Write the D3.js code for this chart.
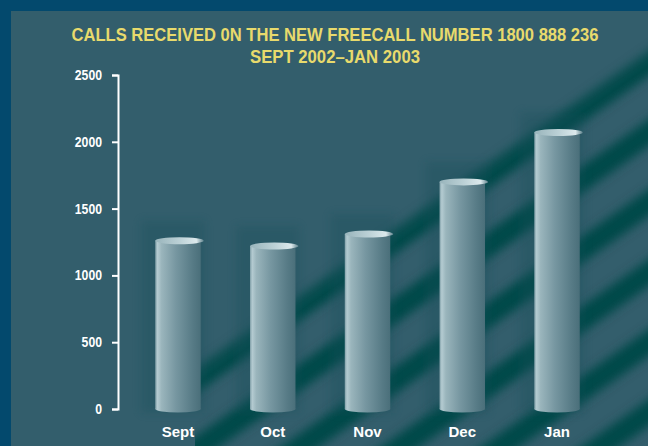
<!DOCTYPE html>
<html>
<head>
<meta charset="utf-8">
<script src="https://cdn.jsdelivr.net/npm/d3@7"></script>
<style>
  html, body { margin: 0; padding: 0; background: #03496d; }
  svg { display: block; }
</style>
</head>
<body>
<div id="chart"></div>
<script>
const months = ['Sept', 'Oct', 'Nov', 'Dec', 'Jan'];
const calls = [1260, 1220, 1310, 1700, 2070];
const yTicks = [0, 500, 1000, 1500, 2000, 2500];
const titleLines = ['CALLS RECEIVED 0N THE NEW FREECALL NUMBER 1800 888 236', 'SEPT 2002\u2013JAN 2003'];
const stripeOffsets = [447, 517, 587, 657, 727, 797, 867, 937];

const W = 648, H = 446;
const FONT = '"Liberation Sans Narrow", "Arial Narrow", "Liberation Sans", Arial, sans-serif';

const svg = d3.select('#chart').append('svg')
    .attr('width', W)
    .attr('height', H);

const defs = svg.append('defs');

// frame + panel
svg.append('rect').attr('width', W).attr('height', H).attr('fill', '#03496d');
svg.append('rect').attr('x', 11).attr('y', 11).attr('width', W - 11).attr('height', H - 11).attr('fill', '#335e6c');

const x = d3.scaleBand()
    .domain(months)
    .range([130.6, 604.4])
    .paddingInner(0.52)
    .paddingOuter(0.26);

const y = d3.scaleLinear()
    .domain([0, 2500])
    .range([409, 75]);

// diagonal shadow stripes in the background
defs.append('filter').attr('id', 'blurStripe')
    .attr('x', '-20%').attr('y', '-20%').attr('width', '140%').attr('height', '140%')
    .append('feGaussianBlur').attr('stdDeviation', 5);
defs.append('filter').attr('id', 'blur4')
    .attr('x', '-50%').attr('y', '-20%').attr('width', '200%').attr('height', '140%')
    .append('feGaussianBlur').attr('stdDeviation', 4);

const fade = defs.append('linearGradient')
    .attr('id', 'stripeFade')
    .attr('gradientUnits', 'userSpaceOnUse')
    .attr('x1', 400).attr('y1', 190).attr('x2', 424).attr('y2', 224);
fade.append('stop').attr('offset', 0).attr('stop-color', '#000');
fade.append('stop').attr('offset', 1).attr('stop-color', '#fff');

defs.append('mask').attr('id', 'stripeMask')
    .attr('maskUnits', 'userSpaceOnUse')
    .attr('x', 0).attr('y', 0).attr('width', W).attr('height', H)
    .append('rect').attr('x', 0).attr('y', 0).attr('width', W).attr('height', H)
    .attr('fill', 'url(#stripeFade)');

defs.append('clipPath').attr('id', 'stripeClip')
    .append('rect').attr('x', 195).attr('y', 11).attr('width', W - 195).attr('height', H - 11);

const slope = 0.7;
svg.append('g')
    .attr('clip-path', 'url(#stripeClip)')
    .append('g')
    .attr('mask', 'url(#stripeMask)')
    .append('g')
    .attr('filter', 'url(#blurStripe)')
    .selectAll('line')
    .data(stripeOffsets)
    .join('line')
    .attr('x1', 100).attr('y1', c => c - slope * 100)
    .attr('x2', 700).attr('y2', c => c - slope * 700)
    .attr('stroke', '#034848')
    .attr('stroke-width', 22);

// title
svg.append('g')
    .selectAll('text')
    .data(titleLines)
    .join('text')
    .attr('x', 335)
    .attr('y', (d, i) => 41 + i * 22)
    .attr('text-anchor', 'middle')
    .attr('textLength', (d, i) => i === 0 ? 527 : 170)
    .attr('lengthAdjust', 'spacingAndGlyphs')
    .attr('font-family', FONT)
    .attr('font-weight', 'bold')
    .attr('font-size', 18)
    .attr('fill', '#e8da6c')
    .text(d => d);

// y axis
const yAxis = svg.append('g')
    .attr('transform', 'translate(118,0)')
    .call(d3.axisLeft(y).tickValues(yTicks).tickFormat(d3.format('d')).tickSize(6).tickPadding(10));
yAxis.attr('font-family', FONT).attr('font-size', 14).attr('font-weight', 'bold');
yAxis.select('.domain').attr('stroke', '#fff').attr('stroke-width', 2);
yAxis.selectAll('.tick line').attr('stroke', '#fff').attr('stroke-width', 2);
yAxis.selectAll('.tick text')
    .attr('fill', '#fff')
    .attr('textLength', d => String(d).length * 6.8)
    .attr('lengthAdjust', 'spacingAndGlyphs');

// cylinder gradients
const bodyGrad = defs.append('linearGradient').attr('id', 'cylBody')
    .attr('x1', 0).attr('x2', 1).attr('y1', 0).attr('y2', 0);
[[0, '#7f9ea7'], [0.05, '#b4cbd1'], [0.14, '#9ab5bc'], [0.45, '#7797a1'], [0.82, '#577b86'], [1, '#4a6f7a']]
    .forEach(([o, c]) => bodyGrad.append('stop').attr('offset', o).attr('stop-color', c));

const topGrad = defs.append('linearGradient').attr('id', 'cylTop')
    .attr('x1', 0).attr('x2', 1).attr('y1', 0).attr('y2', 0);
[[0, '#98b4bb'], [0.5, '#bcd1d6'], [0.85, '#dce9ec'], [1, '#5f838d']]
    .forEach(([o, c]) => topGrad.append('stop').attr('offset', o).attr('stop-color', c));

const bars = svg.append('g')
    .selectAll('g')
    .data(months.map((m, i) => ({ month: m, value: calls[i] })))
    .join('g');

// faint darker halo behind each bar
bars.append('rect')
    .attr('x', d => x(d.month) - 14)
    .attr('y', d => y(d.value) - 20)
    .attr('width', x.bandwidth() + 18)
    .attr('height', d => y(0) - y(d.value) + 24)
    .attr('fill', '#14505a')
    .attr('opacity', 0.3)
    .attr('filter', 'url(#blur4)');

bars.append('ellipse')
    .attr('cx', d => x(d.month) + x.bandwidth() / 2)
    .attr('cy', y(0))
    .attr('rx', x.bandwidth() / 2)
    .attr('ry', 3.5)
    .attr('fill', 'url(#cylBody)');

bars.append('rect')
    .attr('x', d => x(d.month))
    .attr('y', d => y(d.value))
    .attr('width', x.bandwidth())
    .attr('height', d => y(0) - y(d.value))
    .attr('fill', 'url(#cylBody)');

bars.append('ellipse')
    .attr('cx', d => x(d.month) + x.bandwidth() / 2 + 1.5)
    .attr('cy', d => y(d.value))
    .attr('rx', x.bandwidth() / 2 + 1.5)
    .attr('ry', 3.5)
    .attr('fill', 'url(#cylTop)');

// month labels
svg.append('g')
    .selectAll('text')
    .data(months)
    .join('text')
    .attr('x', d => x(d) + x.bandwidth() / 2)
    .attr('y', 437)
    .attr('text-anchor', 'middle')
    .attr('font-family', FONT)
    .attr('font-weight', 'bold')
    .attr('font-size', 15)
    .attr('fill', '#fff')
    .text(d => d);
</script>
</body>
</html>
